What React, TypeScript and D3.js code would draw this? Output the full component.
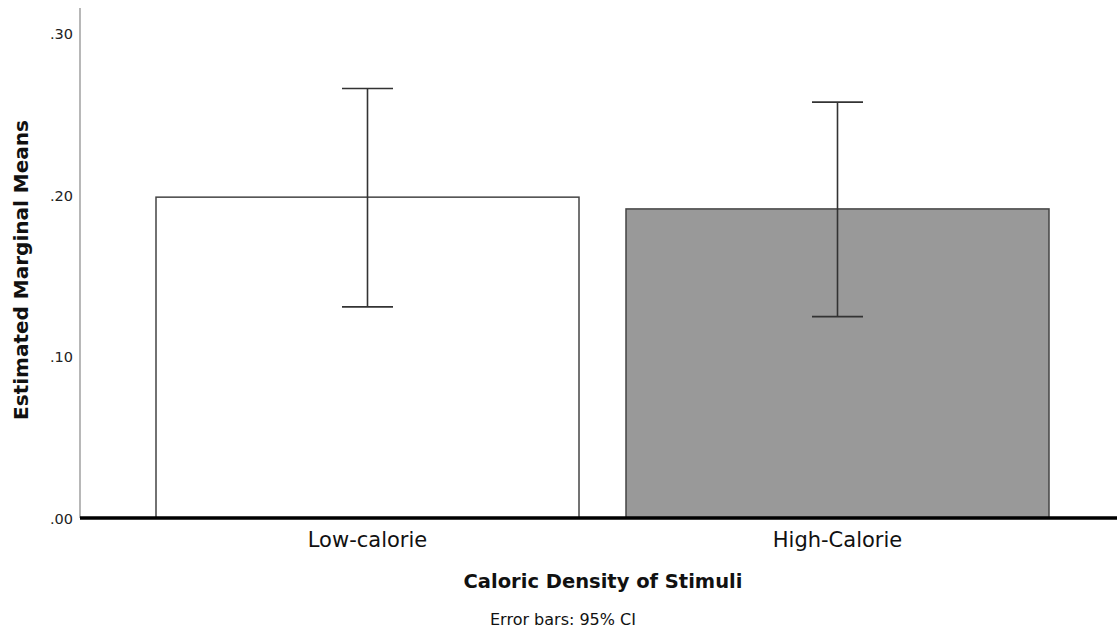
import React from "react";
import * as d3 from "d3";

const categories = ["Low-calorie", "High-Calorie"];
const means = [0.1988, 0.1915];
const ciLower = [0.1308, 0.1248];
const ciUpper = [0.2661, 0.2577];
const barFills = ["#ffffff", "#999999"];
const yTicks = [0, 0.1, 0.2, 0.3];

const W = 1117;
const H = 632;
const FONT = "'DejaVu Sans', Verdana, sans-serif";

const App = () => {
  const x = d3.scaleBand<string>().domain(categories).range([156, 1049]).paddingInner(0.1).paddingOuter(0);
  const y = d3.scaleLinear().domain([0, 0.316]).range([518, 8]);
  const fmt = (v: number) => d3.format(".2f")(v).replace(/^0/, "");
  const capHalf = 25.5;

  return (
    <svg width={W} height={H} style={{ position: "absolute", left: 0, top: 0, background: "#fff" }}>
      {/* y axis */}
      <line x1={80} x2={80} y1={8} y2={518} stroke="#888" strokeWidth={1.2} />
      {yTicks.map((t) => (
        <text key={t} x={73} y={y(t)} dy="0.38em" textAnchor="end" fontFamily={FONT} fontSize={14.5} fill="#222">
          {fmt(t)}
        </text>
      ))}

      {/* bars */}
      {categories.map((c, i) => (
        <rect
          key={c}
          x={x(c)}
          y={y(means[i])}
          width={x.bandwidth()}
          height={y(0) - y(means[i])}
          fill={barFills[i]}
          stroke="#444"
          strokeWidth={1.5}
        />
      ))}

      {/* error bars */}
      {categories.map((c, i) => {
        const cx = (x(c) as number) + x.bandwidth() / 2;
        return (
          <g key={c} stroke="#333" strokeWidth={1.6}>
            <line x1={cx} x2={cx} y1={y(ciUpper[i])} y2={y(ciLower[i])} />
            <line x1={cx - capHalf} x2={cx + capHalf} y1={y(ciUpper[i])} y2={y(ciUpper[i])} />
            <line x1={cx - capHalf} x2={cx + capHalf} y1={y(ciLower[i])} y2={y(ciLower[i])} />
          </g>
        );
      })}

      {/* x axis baseline */}
      <line x1={80} x2={W} y1={518} y2={518} stroke="#000" strokeWidth={3.5} />

      {categories.map((c) => (
        <text
          key={c}
          x={(x(c) as number) + x.bandwidth() / 2}
          y={547}
          textAnchor="middle"
          fontFamily={FONT}
          fontSize={21}
          fill="#111"
        >
          {c}
        </text>
      ))}

      <text x={603} y={588} textAnchor="middle" fontFamily={FONT} fontSize={19.5} fontWeight="bold" fill="#111">
        Caloric Density of Stimuli
      </text>
      <text x={563} y={625} textAnchor="middle" fontFamily={FONT} fontSize={16} fill="#111">
        Error bars: 95% CI
      </text>

      <text
        transform="translate(28,270) rotate(-90)"
        textAnchor="middle"
        fontFamily={FONT}
        fontSize={20}
        fontWeight="bold"
        fill="#111"
      >
        Estimated Marginal Means
      </text>
    </svg>
  );
};

export default App;
